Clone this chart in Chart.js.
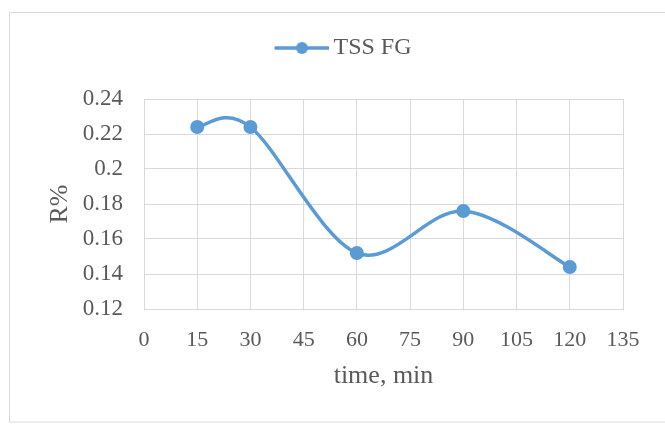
<!DOCTYPE html>
<html>
<head>
<meta charset="utf-8">
<script src="https://cdn.jsdelivr.net/npm/chart.js@4.4.1/dist/chart.umd.min.js"></script>
<style>
  html, body { margin: 0; padding: 0; background: #fff; }
  #wrap { width: 665px; height: 428px; }
</style>
</head>
<body>
<div id="wrap"><canvas id="chart" width="665" height="428"></canvas></div>
<script>
// data
var times = [15, 30, 60, 90, 120];
var tssFG = [0.224, 0.224, 0.152, 0.176, 0.144];
var seriesName = "TSS FG";
var xTitle = "time, min";
var yTitle = "R%";

var blue = "#5B9BD5";
var textGrey = "#595959";
var gridGrey = "#d9d9d9";
var serif = "'Liberation Serif', 'Times New Roman', serif";

// legend marker: line with a dot, like Excel.
// the image is wider than the marker so the legend sits where Excel puts it
var marker = document.createElement("canvas");
marker.width = 126;
marker.height = 14;
var mctx = marker.getContext("2d");
mctx.strokeStyle = blue;
mctx.lineWidth = 3.5;
mctx.beginPath();
mctx.moveTo(71, 7);
mctx.lineTo(126, 7);
mctx.stroke();
mctx.fillStyle = blue;
mctx.beginPath();
mctx.arc(98.5, 7, 6, 0, Math.PI * 2);
mctx.fill();

// outer chart frame
var framePlugin = {
    id: "frame",
    beforeDraw: function (chart) {
        var c = chart.ctx;
        c.save();
        c.fillStyle = "#fff";
        c.fillRect(0, 0, chart.width, chart.height);
        c.strokeStyle = gridGrey;
        c.lineWidth = 1;
        c.strokeRect(9.5, 12.5, 700, 409.5);
        c.restore();
    }
};

// Excel style smoothing (catmull-rom, 1/6 of the neighbour chord)
var excelSmooth = {
    id: "excelSmooth",
    beforeDatasetsDraw: function (chart) {
        var meta = chart.getDatasetMeta(0);
        var pts = meta.data;
        meta.dataset.updateControlPoints(chart.chartArea, "x");
        for (var i = 0; i < pts.length; i++) {
            var prev = pts[Math.max(i - 1, 0)];
            var next = pts[Math.min(i + 1, pts.length - 1)];
            var dx = (next.x - prev.x) / 6;
            var dy = (next.y - prev.y) / 6;
            pts[i].cp1x = pts[i].x - dx;
            pts[i].cp1y = pts[i].y - dy;
            pts[i].cp2x = pts[i].x + dx;
            pts[i].cp2y = pts[i].y + dy;
        }
    }
};

var points = times.map(function (t, i) {
    return { x: t, y: tssFG[i] };
});

new Chart(document.getElementById("chart").getContext("2d"), {
    type: "line",
    data: {
        datasets: [
            {
                label: seriesName,
                data: points,
                borderColor: blue,
                backgroundColor: blue,
                borderWidth: 3.5,
                pointRadius: 7,
                pointHoverRadius: 7,
                pointBackgroundColor: blue,
                pointBorderWidth: 0,
                tension: 0.5,
                fill: false
            }
        ]
    },
    options: {
        responsive: false,
        animation: false,
        layout: {
            padding: { left: 0, right: 42, top: 9, bottom: 0 }
        },
        plugins: {
            tooltip: { enabled: false },
            legend: {
                position: "top",
                labels: {
                    usePointStyle: true,
                    pointStyleWidth: 110,
                    boxHeight: 14,
                    color: textGrey,
                    font: { family: serif, size: 24 },
                    padding: 27,
                    generateLabels: function (chart) {
                        return [{
                            text: seriesName,
                            pointStyle: marker,
                            fillStyle: blue,
                            strokeStyle: blue,
                            lineWidth: 0,
                            fontColor: textGrey,
                            datasetIndex: 0
                        }];
                    }
                }
            },
            // empty title used only as a gap between legend and plot
            title: {
                display: true,
                text: "",
                weight: 500,
                font: { size: 10 },
                padding: { top: 17, bottom: 0 }
            }
        },
        scales: {
            x: {
                type: "linear",
                min: 0,
                max: 135,
                ticks: {
                    stepSize: 15,
                    color: textGrey,
                    font: { family: serif, size: 22 },
                    padding: 18,
                    maxRotation: 0
                },
                grid: { color: gridGrey, lineWidth: 1, drawTicks: false },
                border: { color: gridGrey, width: 1 },
                title: {
                    display: true,
                    text: xTitle,
                    color: textGrey,
                    font: { family: serif, size: 26 },
                    padding: { top: 0, bottom: 36 }
                },
                afterFit: function (scale) {
                    scale.height = 119;
                }
            },
            y: {
                min: 0.12,
                max: 0.24,
                ticks: {
                    stepSize: 0.02,
                    color: textGrey,
                    font: { family: serif, size: 23 },
                    padding: 21,
                    callback: function (v) {
                        return String(Number(v.toFixed(2)));
                    }
                },
                grid: { color: gridGrey, lineWidth: 1, drawTicks: false },
                border: { color: gridGrey, width: 1 },
                title: {
                    display: true,
                    text: yTitle,
                    color: textGrey,
                    font: { family: serif, size: 26 },
                    padding: { top: 45, bottom: 0 }
                },
                afterFit: function (scale) {
                    scale.width = 144;
                }
            }
        }
    },
    plugins: [framePlugin, excelSmooth]
});
</script>
</body>
</html>
